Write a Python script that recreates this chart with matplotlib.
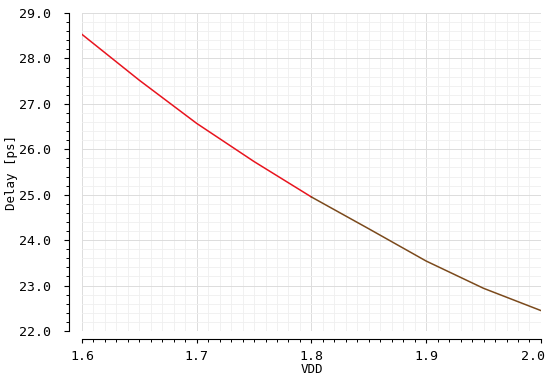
import matplotlib
matplotlib.use('Agg')
import matplotlib.pyplot as plt
from matplotlib.ticker import MultipleLocator, FormatStrFormatter
from matplotlib.transforms import ScaledTranslation

# VDD sweep vs delay
vdd = [1.60, 1.65, 1.70, 1.75, 1.80, 1.85, 1.90, 1.95, 2.00]
delay = [28.53, 27.52, 26.57, 25.73, 24.95, 24.25, 23.54, 22.94, 22.45]
split = 4  # red up to 1.8, brown after

plt.rcParams['font.family'] = ['DejaVu Sans Mono']
fig = plt.figure(figsize=(5.5, 3.78), dpi=100)
ax = fig.add_axes([0.149, 0.1243, 0.8345, 0.8413])

ax.plot(vdd[:split + 1], delay[:split + 1], color='#e8141e', lw=1.1, zorder=3)
ax.plot(vdd[split:], delay[split:], color='#7b4a1c', lw=1.1, zorder=3)

ax.set_xlim(1.6, 2.0); ax.set_ylim(22.0, 29.0)
ax.xaxis.set_major_locator(MultipleLocator(0.1)); ax.xaxis.set_minor_locator(MultipleLocator(0.01))
ax.yaxis.set_major_locator(MultipleLocator(1.0)); ax.yaxis.set_minor_locator(MultipleLocator(0.2))
ax.xaxis.set_major_formatter(FormatStrFormatter('%.1f'))
ax.yaxis.set_major_formatter(FormatStrFormatter('%.1f'))

ax.grid(which='major', color='#dcdcdc', lw=0.7)
ax.grid(which='minor', color='#efefef', lw=0.6)
ax.set_axisbelow(True)

for s in ('top', 'right'):
    ax.spines[s].set_visible(False)
ax.spines['left'].set_position(('outward', 9))
ax.spines['bottom'].set_position(('outward', 6))
for s in ('left', 'bottom'):
    ax.spines[s].set_linewidth(0.8)

ax.tick_params(which='major', length=3.5, width=0.8, labelsize=9.5, colors='black')
ax.tick_params(which='minor', length=2.2, width=0.7)
ax.tick_params(axis='y', which='major', pad=9.5)
ax.tick_params(axis='x', which='major', length=3, pad=5)

ax.set_xlabel('VDD', fontsize=9, labelpad=0)
ax.set_ylabel('Delay [ps]', fontsize=9, labelpad=1)

# pull the "2.0" label in from the right edge like the original
fig.canvas.draw()
for lab in ax.get_xticklabels():
    if lab.get_text() == '2.0':
        lab.set_transform(lab.get_transform() + ScaledTranslation(-6 / 72, 0, fig.dpi_scale_trans))

fig.savefig('out.png', dpi=100)
